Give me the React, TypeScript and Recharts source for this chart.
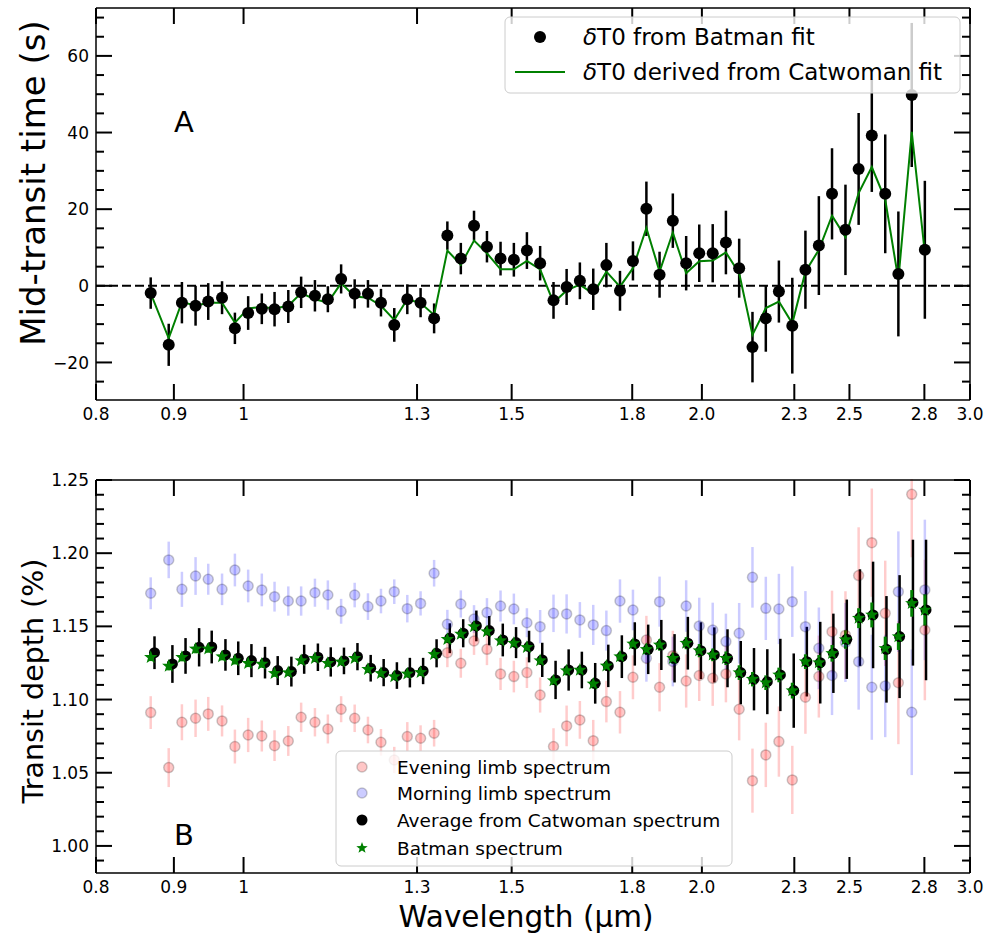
import React from 'react';
import { ComposedChart, Scatter, Line, XAxis, YAxis, ErrorBar, ReferenceLine } from 'recharts';

const FONT = '"DejaVu Sans", "Liberation Sans", sans-serif';

// Spectral bin centres (µm)
const WAVELENGTH = [
  0.869, 0.893, 0.911, 0.930, 0.948, 0.968, 0.987, 1.007, 1.028, 1.048,
  1.070, 1.091, 1.114, 1.136, 1.159, 1.183, 1.207, 1.231, 1.256, 1.281,
  1.307, 1.334, 1.361, 1.389, 1.417, 1.445, 1.475, 1.505, 1.535, 1.566,
  1.598, 1.630, 1.663, 1.697, 1.731, 1.767, 1.802, 1.839, 1.876, 1.914,
  1.953, 1.992, 2.033, 2.074, 2.116, 2.159, 2.203, 2.247, 2.293, 2.339,
  2.387, 2.435, 2.485, 2.535, 2.586, 2.639, 2.692, 2.747, 2.802,
];
// small horizontal shift applied to the averaged spectrum so it does not hide the stars
const AVG_WL_SHIFT = 0.005;

// Panel A: mid-transit time offsets (s)
const BATMAN_DT0 = [
  -1.9, -15.4, -4.4, -5.2, -4.1, -3.1, -11.1, -7.1, -6.0, -6.1,
  -5.4, -1.7, -2.6, -3.5, 1.8, -2.1, -2.1, -4.4, -10.2, -3.5,
  -4.4, -8.5, 13.1, 7.1, 15.7, 10.2, 7.1, 6.8, 9.2, 5.9,
  -3.8, -0.3, 1.3, -0.9, 5.4, -1.3, 6.5, 20.1, 2.9, 17.0,
  5.9, 8.5, 8.5, 11.3, 4.6, -16.0, -8.5, -1.5, -10.4, 4.2,
  10.5, 24.0, 14.6, 30.5, 39.2, 24.0, 3.1, 49.8, 9.4,
];
const BATMAN_DT0_ERR = [
  4.1, 5.5, 5.4, 5.2, 4.8, 4.3, 4.1, 4.4, 4.0, 4.5,
  4.3, 4.1, 4.1, 3.4, 3.8, 3.8, 3.6, 3.6, 4.4, 3.9,
  3.8, 3.9, 3.7, 4.1, 3.9, 4.1, 4.4, 4.4, 4.8, 4.5,
  4.8, 4.7, 4.8, 5.4, 5.8, 5.2, 5.1, 7.1, 6.0, 7.1,
  7.1, 7.5, 7.6, 8.3, 7.7, 9.2, 8.7, 8.1, 12.5, 10.2,
  12.9, 11.9, 11.8, 14.6, 14.7, 15.5, 16.3, 18.8, 18.0,
];
const CATWOMAN_DT0 = [
  -2.0, -13.7, -4.2, -5.2, -4.4, -4.4, -9.6, -5.9, -5.5, -5.9,
  -5.2, -1.9, -3.5, -4.4, 0.7, -2.8, -3.1, -5.2, -8.9, -3.5,
  -4.5, -7.6, 9.2, 5.5, 11.8, 8.5, 4.3, 4.3, 6.5, 4.3,
  -4.4, -1.2, 0.3, -2.1, 3.7, -0.2, 4.6, 15.1, 3.7, 13.9,
  3.3, 6.4, 6.6, 8.7, 3.3, -12.8, -5.8, -4.1, -9.8, 3.7,
  9.4, 18.3, 12.7, 24.2, 31.0, 22.5, 1.6, 40.2, 8.5,
];

// Panel B: transit depth (%)
const EVENING_DEPTH = [
  1.0911, 1.0535, 1.0845, 1.0872, 1.0902, 1.0854, 1.0679, 1.0758, 1.0751, 1.0685,
  1.0717, 1.0879, 1.0845, 1.0799, 1.0934, 1.0872, 1.0792, 1.0708, 1.0587, 1.0747,
  1.0736, 1.0770, 1.1320, 1.1248, 1.1400, 1.1343, 1.1175, 1.1157, 1.1184, 1.1031,
  1.0679, 1.0820, 1.0861, 1.0719, 1.0986, 1.0913, 1.1152, 1.1407, 1.1084, 1.1300,
  1.1127, 1.1164, 1.1145, 1.1175, 1.0934, 1.0446, 1.0622, 1.0713, 1.0451, 1.1016,
  1.1157, 1.1464, 1.1440, 1.1847, 1.2072, 1.1589, 1.1115, 1.2402, 1.1475,
];
const EVENING_ERR = [
  0.0112, 0.0133, 0.0123, 0.0128, 0.0116, 0.0106, 0.0116, 0.0117, 0.0106, 0.0105,
  0.0102, 0.0100, 0.0097, 0.0099, 0.0089, 0.0094, 0.0091, 0.0091, 0.0090, 0.0099,
  0.0088, 0.0091, 0.0099, 0.0099, 0.0095, 0.0108, 0.0110, 0.0108, 0.0105, 0.0120,
  0.0125, 0.0139, 0.0129, 0.0142, 0.0142, 0.0145, 0.0150, 0.0165, 0.0165, 0.0170,
  0.0182, 0.0174, 0.0188, 0.0194, 0.0213, 0.0219, 0.0220, 0.0240, 0.0233, 0.0250,
  0.0280, 0.0280, 0.0300, 0.0330, 0.0370, 0.0360, 0.0420, 0.0430, 0.0480,
];
const MORNING_DEPTH = [
  1.1726, 1.1954, 1.1753, 1.1844, 1.1822, 1.1753, 1.1885, 1.1776, 1.1749, 1.1703,
  1.1673, 1.1673, 1.1730, 1.1714, 1.1603, 1.1714, 1.1635, 1.1673, 1.1737, 1.1621,
  1.1657, 1.1863, 1.1514, 1.1653, 1.1550, 1.1594, 1.1639, 1.1619, 1.1525, 1.1498,
  1.1589, 1.1585, 1.1544, 1.1510, 1.1471, 1.1673, 1.1612, 1.1282, 1.1669, 1.1260,
  1.1639, 1.1503, 1.1475, 1.1396, 1.1453, 1.1835, 1.1623, 1.1619, 1.1669, 1.1498,
  1.1350, 1.1164, 1.1390, 1.1259, 1.1084, 1.1093, 1.1737, 1.0913, 1.1749,
];
const MORNING_ERR = [
  0.0109, 0.0125, 0.0120, 0.0129, 0.0106, 0.0108, 0.0112, 0.0112, 0.0112, 0.0102,
  0.0100, 0.0100, 0.0096, 0.0100, 0.0085, 0.0084, 0.0091, 0.0084, 0.0084, 0.0094,
  0.0083, 0.0091, 0.0099, 0.0093, 0.0095, 0.0099, 0.0106, 0.0105, 0.0099, 0.0114,
  0.0128, 0.0134, 0.0122, 0.0137, 0.0137, 0.0148, 0.0139, 0.0160, 0.0171, 0.0170,
  0.0176, 0.0193, 0.0187, 0.0191, 0.0207, 0.0207, 0.0216, 0.0240, 0.0241, 0.0243,
  0.0279, 0.0270, 0.0270, 0.0328, 0.0359, 0.0350, 0.0412, 0.0429, 0.0480,
];
const CATWOMAN_DEPTH = [
  1.1320, 1.1243, 1.1298, 1.1357, 1.1359, 1.1305, 1.1282, 1.1266, 1.1252, 1.1198,
  1.1191, 1.1275, 1.1289, 1.1257, 1.1264, 1.1293, 1.1214, 1.1184, 1.1164, 1.1184,
  1.1195, 1.1316, 1.1419, 1.1453, 1.1503, 1.1471, 1.1407, 1.1389, 1.1362, 1.1271,
  1.1134, 1.1202, 1.1202, 1.1111, 1.1230, 1.1293, 1.1380, 1.1343, 1.1373, 1.1282,
  1.1385, 1.1334, 1.1305, 1.1282, 1.1184, 1.1139, 1.1122, 1.1168, 1.1061, 1.1259,
  1.1252, 1.1316, 1.1412, 1.1560, 1.1578, 1.1343, 1.1430, 1.1662, 1.1612,
];
const CATWOMAN_DEPTH_ERR = [
  0.0112, 0.0129, 0.0122, 0.0131, 0.0112, 0.0108, 0.0115, 0.0113, 0.0108, 0.0099,
  0.0102, 0.0099, 0.0094, 0.0100, 0.0091, 0.0093, 0.0091, 0.0093, 0.0091, 0.0101,
  0.0090, 0.0096, 0.0102, 0.0096, 0.0105, 0.0100, 0.0112, 0.0106, 0.0108, 0.0117,
  0.0131, 0.0141, 0.0125, 0.0139, 0.0145, 0.0146, 0.0148, 0.0169, 0.0171, 0.0165,
  0.0180, 0.0194, 0.0188, 0.0198, 0.0216, 0.0213, 0.0222, 0.0247, 0.0254, 0.0238,
  0.0279, 0.0271, 0.0271, 0.0330, 0.0364, 0.0364, 0.0420, 0.0430, 0.0480,
];
const BATMAN_DEPTH = [
  1.1289, 1.1229, 1.1289, 1.1346, 1.1346, 1.1293, 1.1266, 1.1248, 1.1243, 1.1179,
  1.1184, 1.1266, 1.1282, 1.1248, 1.1257, 1.1282, 1.1207, 1.1179, 1.1157, 1.1175,
  1.1186, 1.1309, 1.1412, 1.1448, 1.1498, 1.1464, 1.1402, 1.1385, 1.1357, 1.1266,
  1.1129, 1.1197, 1.1202, 1.1107, 1.1230, 1.1293, 1.1380, 1.1343, 1.1373, 1.1282,
  1.1385, 1.1334, 1.1305, 1.1282, 1.1184, 1.1139, 1.1115, 1.1168, 1.1061, 1.1259,
  1.1252, 1.1316, 1.1410, 1.1556, 1.1578, 1.1350, 1.1430, 1.1657, 1.1612,
];
const BATMAN_DEPTH_ERR = [
  0.0026, 0.0030, 0.0028, 0.0030, 0.0026, 0.0025, 0.0026, 0.0026, 0.0025, 0.0023,
  0.0023, 0.0023, 0.0022, 0.0023, 0.0021, 0.0021, 0.0021, 0.0021, 0.0021, 0.0023,
  0.0021, 0.0022, 0.0023, 0.0022, 0.0024, 0.0023, 0.0026, 0.0024, 0.0025, 0.0027,
  0.0030, 0.0032, 0.0029, 0.0032, 0.0033, 0.0034, 0.0034, 0.0039, 0.0039, 0.0038,
  0.0041, 0.0045, 0.0043, 0.0046, 0.0050, 0.0049, 0.0050, 0.0050, 0.0054, 0.0050,
  0.0052, 0.0057, 0.0063, 0.0068, 0.0085, 0.0080, 0.0091, 0.0091, 0.0108,
];

// Axes
const WL_DOMAIN = [0.8, 3.0];
const X_TICKS = [0.8, 0.9, 1, 1.3, 1.5, 1.8, 2.0, 2.3, 2.5, 2.8, 3.0];
const X_TICK_LABELS = ['0.8', '0.9', '1', '1.3', '1.5', '1.8', '2.0', '2.3', '2.5', '2.8', '3.0'];

const DT0_DOMAIN = [-29.8, 72.5];
const DT0_MAJOR = [-20, 0, 20, 40, 60];
const DT0_MAJOR_LABELS = ['\u221220', '0', '20', '40', '60'];
const DT0_TICKS = [-25, -20, -15, -10, -5, 0, 5, 10, 15, 20, 25, 30, 35, 40, 45, 50, 55, 60, 65, 70];

const DEPTH_DOMAIN = [0.9815, 1.25];
const DEPTH_MAJOR = [1.0, 1.05, 1.1, 1.15, 1.2, 1.25];
const DEPTH_MAJOR_LABELS = ['1.00', '1.05', '1.10', '1.15', '1.20', '1.25'];
const DEPTH_TICKS = [
  0.99, 1.0, 1.01, 1.02, 1.03, 1.04, 1.05, 1.06, 1.07, 1.08, 1.09, 1.1, 1.11, 1.12,
  1.13, 1.14, 1.15, 1.16, 1.17, 1.18, 1.19, 1.2, 1.21, 1.22, 1.23, 1.24, 1.25,
];

const GREEN = '#008000';
const MAJOR_LEN = 16;
const MINOR_LEN = 8;
const TICK_W = 2;
const TICK_FONT = 17;

type Row = { wl: number; v: number; e: number };
const toRows = (wl: number[], vals: number[], errs: number[]): Row[] =>
  vals.map((v, i) => ({ wl: wl[i], v, e: errs[i] }));

const avgWavelength = WAVELENGTH.map((w) => w + AVG_WL_SHIFT);

const dt0Rows = toRows(WAVELENGTH, BATMAN_DT0, BATMAN_DT0_ERR);
const catDt0Rows = WAVELENGTH.map((wl, i) => ({ wl, v: CATWOMAN_DT0[i] }));
const eveningRows = toRows(WAVELENGTH, EVENING_DEPTH, EVENING_ERR);
const morningRows = toRows(WAVELENGTH, MORNING_DEPTH, MORNING_ERR);
const avgRows = toRows(avgWavelength, CATWOMAN_DEPTH, CATWOMAN_DEPTH_ERR);
const batmanDepthRows = toRows(WAVELENGTH, BATMAN_DEPTH, BATMAN_DEPTH_ERR);

const majorIndex = (v: number, majors: number[]) =>
  majors.findIndex((m) => Math.abs(m - v) < 1e-9);

// Inward-pointing ticks in the matplotlib style; labels only on major ticks.
const makeTick =
  (side: 'left' | 'right' | 'top' | 'bottom', majors: number[], labels: string[] | null) =>
  (props: any) => {
    const { x, y, payload } = props;
    const idx = majorIndex(payload.value, majors);
    const len = idx >= 0 ? MAJOR_LEN : MINOR_LEN;
    let line: React.ReactNode = null;
    let label: React.ReactNode = null;
    if (side === 'left') {
      line = <line x1={x} x2={x + len} y1={y} y2={y} stroke="#000" strokeWidth={TICK_W} />;
      if (labels && idx >= 0)
        label = (
          <text x={x - 7} y={y} dy="0.36em" textAnchor="end" fontSize={TICK_FONT} fontFamily={FONT} fill="#000">
            {labels[idx]}
          </text>
        );
    } else if (side === 'right') {
      line = <line x1={x} x2={x - len} y1={y} y2={y} stroke="#000" strokeWidth={TICK_W} />;
    } else if (side === 'top') {
      line = <line x1={x} x2={x} y1={y} y2={y + len} stroke="#000" strokeWidth={TICK_W} />;
    } else {
      line = <line x1={x} x2={x} y1={y} y2={y - len} stroke="#000" strokeWidth={TICK_W} />;
      if (labels && idx >= 0)
        label = (
          <text x={x} y={y + 20} textAnchor="middle" fontSize={TICK_FONT} fontFamily={FONT} fill="#000">
            {labels[idx]}
          </text>
        );
    }
    return (
      <g>
        {line}
        {label}
      </g>
    );
  };

const starPoints = (cx: number, cy: number, R: number, r: number) => {
  const pts: string[] = [];
  for (let k = 0; k < 10; k++) {
    const ang = -Math.PI / 2 + (k * Math.PI) / 5;
    const rad = k % 2 === 0 ? R : r;
    pts.push(`${cx + rad * Math.cos(ang)},${cy + rad * Math.sin(ang)}`);
  }
  return pts.join(' ');
};

const dotShape = (r: number, fill: string, stroke = 'none', sw = 0) => (p: any) =>
  <circle cx={p.cx} cy={p.cy} r={r} fill={fill} stroke={stroke} strokeWidth={sw} />;

const starShape = (p: any) => <polygon points={starPoints(p.cx, p.cy, 7, 2.9)} fill={GREEN} />;

const frame = { stroke: '#000', strokeWidth: 1.5 };

const wlAxisProps = {
  dataKey: 'wl',
  type: 'number' as const,
  scale: 'log' as const,
  domain: WL_DOMAIN,
  allowDataOverflow: true,
  ticks: X_TICKS,
  interval: 0 as const,
  tickSize: 0,
  tickMargin: 0,
  tickLine: false,
  axisLine: frame,
};

const yAxisCommon = {
  type: 'number' as const,
  allowDataOverflow: true,
  interval: 0 as const,
  tickSize: 0,
  tickMargin: 0,
  tickLine: false,
  axisLine: frame,
};

// Panel B plot area: x 96–970, y 40–433 inside its 498px-tall svg.
// Error bars running past the top of the frame are clipped away above the plot only.
const PANEL_B_CLIP =
  'polygon(0px 0px, 96px 0px, 96px 39px, 971px 39px, 971px 0px, 989px 0px, 989px 498px, 0px 498px)';

export default function App() {
  const xBottom = makeTick('bottom', X_TICKS, X_TICK_LABELS);
  const xTop = makeTick('top', X_TICKS, null);

  return (
    <div style={{ position: 'absolute', left: 0, top: 0, width: 989, height: 938, background: '#fff' }}>
      {/* Panel A: plot area spans x 96–970, y 8–400 */}
      <div style={{ position: 'absolute', left: 0, top: 0 }}>
        <ComposedChart width={989} height={440} margin={{ top: 7, right: 18, bottom: 0, left: 0 }}>
          <XAxis xAxisId="b" {...wlAxisProps} tick={xBottom} height={40} orientation="bottom" />
          <XAxis xAxisId="t" {...wlAxisProps} tick={xTop} height={1} orientation="top" />
          <YAxis
            yAxisId="l"
            {...yAxisCommon}
            domain={DT0_DOMAIN}
            ticks={DT0_TICKS}
            tick={makeTick('left', DT0_MAJOR, DT0_MAJOR_LABELS)}
            width={96}
          />
          <YAxis
            yAxisId="r"
            orientation="right"
            {...yAxisCommon}
            domain={DT0_DOMAIN}
            ticks={DT0_TICKS}
            tick={makeTick('right', DT0_MAJOR, null)}
            width={1}
          />
          <ReferenceLine xAxisId="b" yAxisId="l" y={0} stroke="#000" strokeWidth={2} strokeDasharray="9 4" />
          <Scatter
            xAxisId="b"
            yAxisId="l"
            data={dt0Rows}
            dataKey="v"
            shape={dotShape(6, '#000')}
            isAnimationActive={false}
          >
            <ErrorBar dataKey="e" direction="y" width={0} stroke="#000" strokeWidth={2.5} />
          </Scatter>
          <Line
            xAxisId="b"
            yAxisId="l"
            data={catDt0Rows}
            dataKey="v"
            stroke={GREEN}
            strokeWidth={2}
            dot={false}
            activeDot={false}
            isAnimationActive={false}
          />
        </ComposedChart>
      </div>

      {/* Panel B */}
      <div style={{ position: 'absolute', left: 0, top: 440, clipPath: PANEL_B_CLIP }}>
        <ComposedChart width={989} height={498} margin={{ top: 39, right: 18, bottom: 0, left: 0 }}>
          <XAxis xAxisId="b" {...wlAxisProps} tick={xBottom} height={65} orientation="bottom" />
          <XAxis xAxisId="t" {...wlAxisProps} tick={xTop} height={1} orientation="top" />
          <YAxis
            yAxisId="l"
            {...yAxisCommon}
            domain={DEPTH_DOMAIN}
            ticks={DEPTH_TICKS}
            tick={makeTick('left', DEPTH_MAJOR, DEPTH_MAJOR_LABELS)}
            width={96}
          />
          <YAxis
            yAxisId="r"
            orientation="right"
            {...yAxisCommon}
            domain={DEPTH_DOMAIN}
            ticks={DEPTH_TICKS}
            tick={makeTick('right', DEPTH_MAJOR, null)}
            width={1}
          />
          <Scatter
            xAxisId="b"
            yAxisId="l"
            data={eveningRows}
            dataKey="v"
            shape={dotShape(5, 'rgba(255,0,0,0.22)', 'rgba(0,0,0,0.2)', 1.5)}
            isAnimationActive={false}
          >
            <ErrorBar dataKey="e" direction="y" width={0} stroke="#ff0000" strokeOpacity={0.2} strokeWidth={2.5} />
          </Scatter>
          <Scatter
            xAxisId="b"
            yAxisId="l"
            data={morningRows}
            dataKey="v"
            shape={dotShape(5, 'rgba(0,0,255,0.2)', 'rgba(0,0,0,0.2)', 1.5)}
            isAnimationActive={false}
          >
            <ErrorBar dataKey="e" direction="y" width={0} stroke="#0000ff" strokeOpacity={0.2} strokeWidth={2.5} />
          </Scatter>
          <Scatter
            xAxisId="b"
            yAxisId="l"
            data={avgRows}
            dataKey="v"
            shape={dotShape(5.5, '#000')}
            isAnimationActive={false}
          >
            <ErrorBar dataKey="e" direction="y" width={0} stroke="#000" strokeWidth={2.5} />
          </Scatter>
          <Scatter
            xAxisId="b"
            yAxisId="l"
            data={batmanDepthRows}
            dataKey="v"
            shape={starShape}
            isAnimationActive={false}
          >
            <ErrorBar dataKey="e" direction="y" width={0} stroke={GREEN} strokeWidth={3} />
          </Scatter>
        </ComposedChart>
      </div>

      {/* Axis titles, panel letters and legends */}
      <svg
        width={989}
        height={938}
        style={{ position: 'absolute', left: 0, top: 0, pointerEvents: 'none' }}
        fontFamily={FONT}
      >
        <text
          x={33}
          y={183}
          textAnchor="middle"
          dominantBaseline="central"
          fontSize={34}
          fill="#000"
          transform="rotate(-90 33 183)"
        >
          Mid-transit time (s)
        </text>
        <text
          x={33}
          y={681}
          textAnchor="middle"
          dominantBaseline="central"
          fontSize={28.5}
          fill="#000"
          transform="rotate(-90 33 681)"
        >
          Transit depth (%)
        </text>
        <text x={526} y={917} textAnchor="middle" dominantBaseline="central" fontSize={29.5} fill="#000">
          Wavelength (µm)
        </text>

        <text x={184} y={122} textAnchor="middle" dominantBaseline="central" fontSize={29} fill="#000">A</text>
        <text x={184} y={835} textAnchor="middle" dominantBaseline="central" fontSize={29} fill="#000">B</text>

        <g>
          <rect x={505} y={17} width={455} height={76} rx={5} fill="#fff" fillOpacity={0.8} stroke="#cccccc" strokeWidth={1} />
          <circle cx={540} cy={37} r={6} fill="#000" />
          <text x={583} y={37} dominantBaseline="central" fontSize={23} fill="#000">
            <tspan fontStyle="italic">δ</tspan>T0 from Batman fit
          </text>
          <line x1={515} x2={565} y1={72} y2={72} stroke={GREEN} strokeWidth={2} />
          <text x={583} y={72} dominantBaseline="central" fontSize={23} fill="#000">
            <tspan fontStyle="italic">δ</tspan>T0 derived from Catwoman fit
          </text>
        </g>

        <g>
          <rect x={336} y={751} width={396} height={115} rx={5} fill="#fff" fillOpacity={0.8} stroke="#cccccc" strokeWidth={1} />
          <circle cx={362} cy={767} r={5} fill="rgba(255,0,0,0.22)" stroke="rgba(0,0,0,0.2)" strokeWidth={1.5} />
          <text x={397} y={767} dominantBaseline="central" fontSize={18.5} fill="#000">Evening limb spectrum</text>
          <circle cx={362} cy={793} r={5} fill="rgba(0,0,255,0.2)" stroke="rgba(0,0,0,0.2)" strokeWidth={1.5} />
          <text x={397} y={793} dominantBaseline="central" fontSize={18.5} fill="#000">Morning limb spectrum</text>
          <circle cx={362} cy={820} r={5.5} fill="#000" />
          <text x={397} y={820} dominantBaseline="central" fontSize={18.5} fill="#000">Average from Catwoman spectrum</text>
          <polygon points={starPoints(362, 848, 6, 2.5)} fill={GREEN} />
          <text x={397} y={848} dominantBaseline="central" fontSize={18.5} fill="#000">Batman spectrum</text>
        </g>
      </svg>
    </div>
  );
}
